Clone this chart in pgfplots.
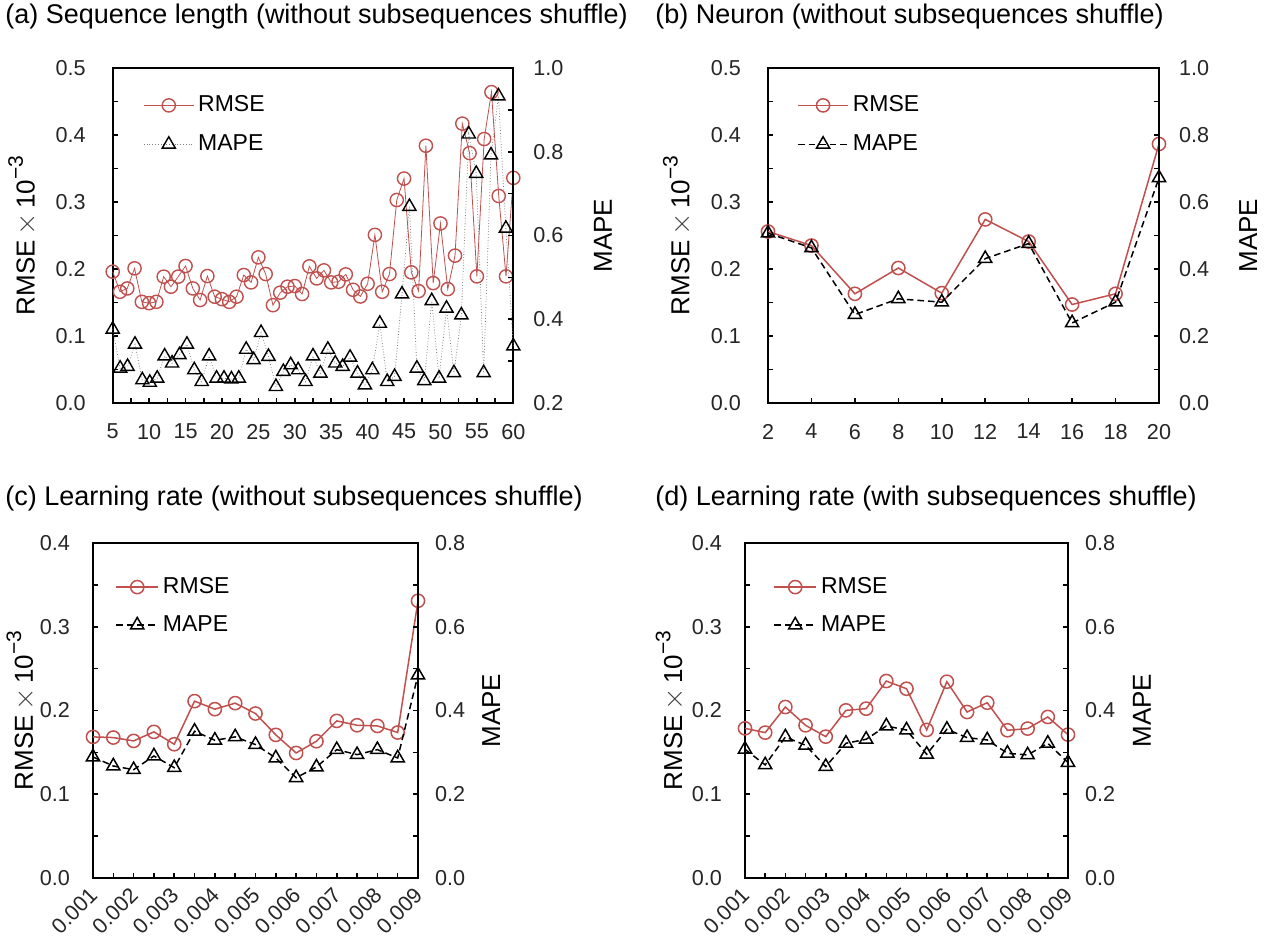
\documentclass[border=0pt]{standalone}
\usepackage{fontspec}
\setmainfont{Liberation Sans}
\usepackage{pgfplots}
\pgfplotsset{compat=1.18}
\definecolor{rmsered}{RGB}{192,80,77}

% y-axis label of the RMSE axis
\newcommand{\rmselabel}{RMSE\,{\color{black!75}\fontsize{15}{15}\selectfont$\times$}\,10\raisebox{0.85ex}{\fontsize{10.5}{10}\selectfont −3}}

\pgfplotsset{
  twinbase/.style={
    scale only axis, clip=false,
    axis line style={line width=1pt, black},
    tick align=inside,
    major tick length=2.5pt, minor tick length=2.5pt,
    every tick/.style={black, line width=0.8pt},
    tick label style={font=\fontsize{10.8}{13}\selectfont, text=black!85},
    label style={font=\fontsize{13}{15}\selectfont},
    /pgf/number format/assume math mode=true,
  },
  lefty/.style={twinbase, xtick pos=left, ytick pos=left,
    yticklabel style={/pgf/number format/fixed, /pgf/number format/fixed zerofill,
      /pgf/number format/precision=1, xshift=-10pt},
    xticklabel style={yshift=-7pt},
    ylabel={\rmselabel},
    ylabel style={anchor=center},
  },
  righty/.style={twinbase, axis x line=none, axis y line*=right, tick align=inside,
    yticklabel style={/pgf/number format/fixed, /pgf/number format/fixed zerofill,
      /pgf/number format/precision=1, xshift=6.5pt},
    ylabel={MAPE},
    ylabel style={anchor=center},
    legend cell align=left,
    legend style={draw=none, fill=none, anchor=north west, inner sep=0pt,
      row sep=6pt, font=\fontsize{11.5}{13}\selectfont},
  },
  limgA/.style={legend image code/.code={%
    \draw[mark repeat=2,mark phase=2] plot coordinates {(0pt,0pt) (12.5pt,0pt) (25pt,0pt)};}},
  limgC/.style={legend image code/.code={%
    \draw[mark repeat=2,mark phase=2] plot coordinates {(0pt,0pt) (10.5pt,0pt) (21pt,0pt)};}},
  rotx/.style={xticklabel style={rotate=45, anchor=north east, inner sep=1pt,
    yshift=5pt, xshift=1.5pt}},
  % series styles
  rmsethin/.style={rmsered, line width=0.4pt, mark=o, mark size=3.3pt,
    mark options={solid, line width=0.7pt, rmsered}},
  mapethin/.style={gray, densely dotted, line width=0.4pt, mark=triangle, mark size=3.8pt,
    mark options={solid, line width=0.7pt, black}},
  rmsebold/.style={rmsered, line width=0.75pt, mark=o, mark size=3.3pt,
    mark options={solid, line width=0.75pt, rmsered}},
  mapebold/.style={black, dash pattern=on 3.3pt off 2pt, line width=0.75pt, mark=triangle,
    mark size=3.8pt, mark options={solid, line width=0.75pt, black}},
}

\begin{document}
\begin{tikzpicture}
\useasboundingbox (0,0) rectangle (640pt,-474pt);

% ---------------- (a) sequence length ----------------
\node[anchor=base west, inner sep=0, font=\fontsize{13.5}{16}\selectfont] at (2.5pt,-11.5pt)
  {(a) Sequence length (without subsequences shuffle)};
\begin{axis}[lefty, at={(56.35pt,-201.5pt)}, anchor=south west,
  width=200.3pt, height=167.5pt,
  xmin=5, xmax=60, ymin=0, ymax=0.5,
  xtick={5,10,15,20,25,30,35,40,45,50,55,60},
  minor xtick={7.5,12.5,17.5,22.5,27.5,32.5,37.5,42.5,47.5,52.5,57.5},
  ytick={0,0.1,0.2,0.3,0.4,0.5},
  minor ytick={0.05,0.15,0.25,0.35,0.45},
  ylabel style={at={(axis description cs:-0.225,0.5)}}]
\addplot[rmsethin] coordinates {
 (5,0.196) (6,0.166) (7,0.171) (8,0.201) (9,0.151) (10,0.149) (11,0.151) (12,0.1886)
 (13,0.1736) (14,0.1886) (15,0.2045) (16,0.171) (17,0.1537) (18,0.1895) (19,0.1587)
 (20,0.155) (21,0.151) (22,0.1587) (23,0.191) (24,0.180) (25,0.2174) (26,0.1925)
 (27,0.146) (28,0.1647) (29,0.1736) (30,0.1746) (31,0.1627) (32,0.204) (33,0.186)
 (34,0.198) (35,0.180) (36,0.181) (37,0.192) (38,0.169) (39,0.159) (40,0.178)
 (41,0.251) (42,0.166) (43,0.1925) (44,0.303) (45,0.335) (46,0.195) (47,0.167)
 (48,0.384) (49,0.179) (50,0.268) (51,0.170) (52,0.220) (53,0.417) (54,0.373)
 (55,0.189) (56,0.394) (57,0.464) (58,0.309) (59,0.189) (60,0.336)};
\end{axis}
\begin{axis}[righty, limgA, at={(56.35pt,-201.5pt)}, anchor=south west,
  width=200.3pt, height=167.5pt,
  xmin=5, xmax=60, ymin=0.2, ymax=1.0,
  ytick={0.2,0.4,0.6,0.8,1.0}, minor ytick={0.3,0.5,0.7,0.9},
  ylabel style={at={(axis description cs:1.224,0.5)}},
  legend style={at={(axis description cs:0.0756,0.93)}}]
\addlegendimage{rmsethin}
\addlegendentry{RMSE}
\addplot[mapethin] coordinates {
 (5.00,0.376) (6.02,0.283) (7.04,0.287) (8.06,0.340) (9.07,0.255) (10.09,0.249)
 (11.11,0.259) (12.13,0.312) (13.15,0.295) (14.17,0.315) (15.19,0.340) (16.20,0.279)
 (17.22,0.251) (18.24,0.312) (19.26,0.259) (20.28,0.259) (21.30,0.257) (22.31,0.259)
 (23.33,0.328) (24.35,0.303) (25.37,0.368) (26.39,0.311) (27.41,0.239) (28.43,0.275)
 (29.44,0.291) (30.46,0.279) (31.48,0.251) (32.50,0.312) (33.52,0.271) (34.54,0.328)
 (35.56,0.295) (36.57,0.287) (37.59,0.309) (38.61,0.271) (39.63,0.243) (40.65,0.279)
 (41.67,0.390) (42.69,0.251) (43.70,0.263) (44.72,0.460) (45.74,0.669) (46.76,0.283)
 (47.78,0.253) (48.80,0.444) (49.81,0.259) (50.83,0.426) (51.85,0.272) (52.87,0.410)
 (53.89,0.842) (54.91,0.748) (55.93,0.272) (56.94,0.792) (57.96,0.933) (58.98,0.617)
 (60.00,0.336)};
\addlegendentry{MAPE}
\end{axis}

% ---------------- (b) neuron ----------------
\node[anchor=base west, inner sep=0, font=\fontsize{13.5}{16}\selectfont] at (327.5pt,-11.5pt)
  {(b) Neuron (without subsequences shuffle)};
\begin{axis}[lefty, at={(384pt,-201.5pt)}, anchor=south west,
  width=195.5pt, height=167.5pt,
  xmin=2, xmax=20, ymin=0, ymax=0.5,
  xtick={2,4,6,8,10,12,14,16,18,20},
  ytick={0,0.1,0.2,0.3,0.4,0.5},
  minor ytick={0.05,0.15,0.25,0.35,0.45},
  ylabel style={at={(axis description cs:-0.232,0.5)}}]
\addplot[rmsebold] coordinates {
 (2,0.256) (4,0.235) (6,0.163) (8,0.2015) (10,0.164) (12,0.274) (14,0.241)
 (16,0.147) (18,0.163) (20,0.3866)};
\end{axis}
\begin{axis}[righty, limgA, at={(384pt,-201.5pt)}, anchor=south west,
  width=195.5pt, height=167.5pt,
  xmin=2, xmax=20, ymin=0, ymax=1.0,
  ytick={0,0.2,0.4,0.6,0.8,1.0}, minor ytick={0.1,0.3,0.5,0.7,0.9},
  ylabel style={at={(axis description cs:1.228,0.5)}},
  legend style={at={(axis description cs:0.074,0.93)}}]
\addlegendimage{rmsebold}
\addlegendentry{RMSE}
\addplot[mapebold] coordinates {
 (2,0.507) (4,0.463) (6,0.264) (8,0.311) (10,0.301) (12,0.431) (14,0.476)
 (16,0.239) (18,0.301) (20,0.672)};
\addlegendentry{MAPE}
\end{axis}

% ---------------- (c) learning rate, no shuffle ----------------
\node[anchor=base west, inner sep=0, font=\fontsize{13.5}{16}\selectfont] at (2.5pt,-252.5pt)
  {(c) Learning rate (without subsequences shuffle)};
\begin{axis}[lefty, rotx, at={(46.5pt,-439pt)}, anchor=south west,
  width=162.5pt, height=167.5pt,
  xmin=0.001, xmax=0.009, ymin=0, ymax=0.4,
  xtick={0.001,0.002,0.003,0.004,0.005,0.006,0.007,0.008,0.009},
  xticklabels={0.001,0.002,0.003,0.004,0.005,0.006,0.007,0.008,0.009},
  minor xtick={0.0015,0.0025,0.0035,0.0045,0.0055,0.0065,0.0075,0.0085},
  ytick={0,0.1,0.2,0.3,0.4},
  minor ytick={0.05,0.15,0.25,0.35},
  yticklabel style={xshift=2pt},
  ylabel style={at={(axis description cs:-0.222,0.5)}}]
\addplot[rmsebold] coordinates {
 (0.0010,0.1685) (0.0015,0.1677) (0.0020,0.1637) (0.0025,0.1745) (0.0030,0.1597)
 (0.0035,0.2112) (0.0040,0.2016) (0.0045,0.2088) (0.0050,0.1964) (0.0055,0.1709)
 (0.0060,0.1493) (0.0065,0.1633) (0.0070,0.1876) (0.0075,0.1824) (0.0080,0.1816)
 (0.0085,0.1737) (0.0090,0.331)};
\end{axis}
\begin{axis}[righty, limgC, at={(46.5pt,-439pt)}, anchor=south west,
  width=162.5pt, height=167.5pt,
  xmin=0.001, xmax=0.009, ymin=0, ymax=0.8,
  ytick={0,0.2,0.4,0.6,0.8}, minor ytick={0.1,0.3,0.5,0.7},
  yticklabel style={xshift=-1.5pt},
  ylabel style={at={(axis description cs:1.225,0.5)}},
  legend style={at={(axis description cs:0.068,0.91)}, row sep=5.5pt}]
\addlegendimage{rmsebold}
\addlegendentry{RMSE}
\addplot[mapebold] coordinates {
 (0.0010,0.289) (0.0015,0.2675) (0.0020,0.2587) (0.0025,0.2914) (0.0030,0.2635)
 (0.0035,0.3505) (0.0040,0.329) (0.0045,0.337) (0.0050,0.3186) (0.0055,0.2866)
 (0.0060,0.2395) (0.0065,0.265) (0.0070,0.3066) (0.0075,0.2946) (0.0080,0.3066)
 (0.0085,0.2866) (0.0090,0.4846)};
\addlegendentry{MAPE}
\end{axis}

% ---------------- (d) learning rate, with shuffle ----------------
\node[anchor=base west, inner sep=0, font=\fontsize{13.5}{16}\selectfont] at (327.5pt,-252.5pt)
  {(d) Learning rate (with subsequences shuffle)};
\begin{axis}[lefty, rotx, at={(372.5pt,-439pt)}, anchor=south west,
  width=161.5pt, height=167.5pt,
  xmin=0.001, xmax=0.009, ymin=0, ymax=0.4,
  xtick={0.001,0.002,0.003,0.004,0.005,0.006,0.007,0.008,0.009},
  xticklabels={0.001,0.002,0.003,0.004,0.005,0.006,0.007,0.008,0.009},
  minor xtick={0.0015,0.0025,0.0035,0.0045,0.0055,0.0065,0.0075,0.0085},
  ytick={0,0.1,0.2,0.3,0.4},
  minor ytick={0.05,0.15,0.25,0.35},
  yticklabel style={xshift=2pt},
  ylabel style={at={(axis description cs:-0.232,0.5)}}]
\addplot[rmsebold] coordinates {
 (0.0010,0.1787) (0.0015,0.1736) (0.0020,0.2042) (0.0025,0.1823) (0.0030,0.1688)
 (0.0035,0.2002) (0.0040,0.2022) (0.0045,0.2352) (0.0050,0.226) (0.0055,0.1768)
 (0.0060,0.2344) (0.0065,0.1982) (0.0070,0.2093) (0.0075,0.1764) (0.0080,0.1784)
 (0.0085,0.1923) (0.0090,0.1712)};
\end{axis}
\begin{axis}[righty, limgC, at={(372.5pt,-439pt)}, anchor=south west,
  width=161.5pt, height=167.5pt,
  xmin=0.001, xmax=0.009, ymin=0, ymax=0.8,
  ytick={0,0.2,0.4,0.6,0.8}, minor ytick={0.1,0.3,0.5,0.7},
  yticklabel style={xshift=-1.5pt},
  ylabel style={at={(axis description cs:1.229,0.5)}},
  legend style={at={(axis description cs:0.087,0.91)}, row sep=5.5pt}]
\addlegendimage{rmsebold}
\addlegendentry{RMSE}
\addplot[mapebold] coordinates {
 (0.0010,0.3074) (0.0015,0.2701) (0.0020,0.3368) (0.0025,0.317) (0.0030,0.2661)
 (0.0035,0.3217) (0.0040,0.3313) (0.0045,0.363) (0.0050,0.3535) (0.0055,0.2955)
 (0.0060,0.3551) (0.0065,0.3353) (0.0070,0.3297) (0.0075,0.2979) (0.0080,0.2939)
 (0.0085,0.3217) (0.0090,0.2757)};
\addlegendentry{MAPE}
\end{axis}
\end{tikzpicture}
\end{document}
